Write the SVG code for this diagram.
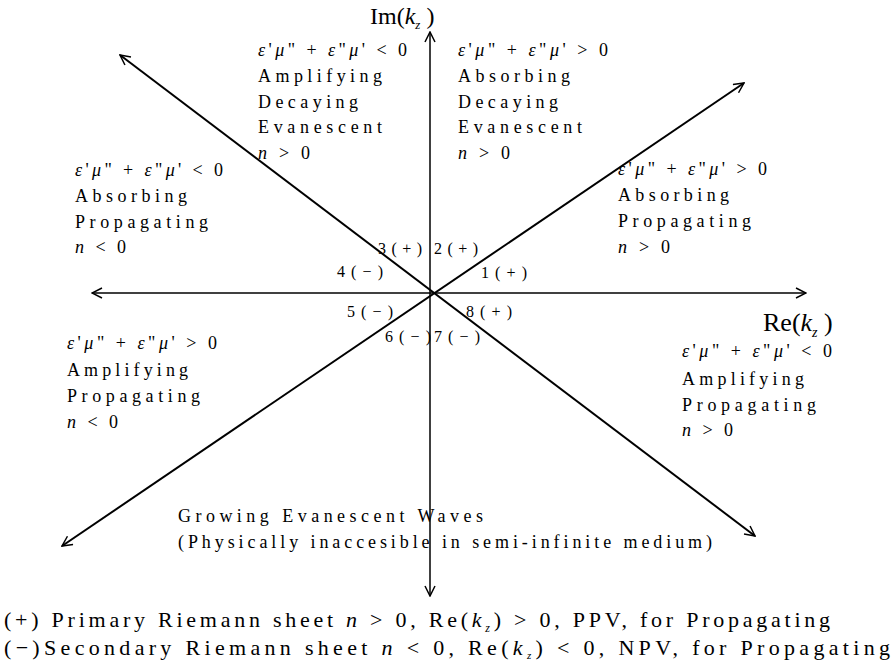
<svg xmlns="http://www.w3.org/2000/svg" width="896" height="662" viewBox="0 0 896 662">
<defs>
<style>
text{font-family:"Liberation Serif","Times New Roman",serif;fill:#000}
.b{font-size:18px}
.q{font-size:16px}
.i{font-style:italic}
.ax{fill:none;stroke:#000;marker-start:url(#ah);marker-end:url(#ah)}
</style>
<marker id="ah" viewBox="0 0 12 12" refX="11" refY="6" markerWidth="12" markerHeight="12" markerUnits="userSpaceOnUse" orient="auto-start-reverse">
<path d="M1,1 L11,6 L1,11" fill="none" stroke="#000" stroke-width="1.5"/>
</marker>
</defs>
<rect width="896" height="662" fill="#fff"/>
<g id="connectors">
<line class="ax" x1="430" y1="596" x2="430" y2="32" stroke="#333" stroke-width="1.5"/>
<line class="ax" x1="92" y1="293" x2="806" y2="293" stroke-width="1.3"/>
<line class="ax" x1="120" y1="55" x2="755" y2="536" stroke-width="2"/>
<line class="ax" x1="62" y1="546" x2="744" y2="83" stroke-width="2"/>
</g>
<g id="axis-im"><text x="370" y="24" font-size="24">Im(<tspan class="i">k</tspan><tspan class="i" font-size="13" dy="5">z</tspan><tspan dy="-5"> )</tspan></text></g>
<g id="axis-re"><text x="763" y="331" font-size="26">Re(<tspan class="i">k</tspan><tspan class="i" font-size="14" dy="6">z</tspan><tspan dy="-6"> )</tspan></text></g>
<g id="q3-top">
<text class="b" x="258" y="56" textLength="149" lengthAdjust="spacing"><tspan class="i">ε</tspan>'<tspan class="i">μ</tspan>" + <tspan class="i">ε</tspan>"<tspan class="i">μ</tspan>' &lt; 0</text>
<text class="b" x="258" y="82" textLength="124" lengthAdjust="spacing">Amplifying</text>
<text class="b" x="258" y="108" textLength="100" lengthAdjust="spacing">Decaying</text>
<text class="b" x="258" y="133" textLength="124" lengthAdjust="spacing">Evanescent</text>
<text class="b" x="258" y="159" textLength="52" lengthAdjust="spacing"><tspan class="i">n</tspan> &gt; 0</text>
</g>
<g id="q2-top">
<text class="b" x="458" y="56" textLength="150" lengthAdjust="spacing"><tspan class="i">ε</tspan>'<tspan class="i">μ</tspan>" + <tspan class="i">ε</tspan>"<tspan class="i">μ</tspan>' &gt; 0</text>
<text class="b" x="458" y="82" textLength="112" lengthAdjust="spacing">Absorbing</text>
<text class="b" x="458" y="108" textLength="100" lengthAdjust="spacing">Decaying</text>
<text class="b" x="458" y="133" textLength="124" lengthAdjust="spacing">Evanescent</text>
<text class="b" x="458" y="159" textLength="52" lengthAdjust="spacing"><tspan class="i">n</tspan> &gt; 0</text>
</g>
<g id="q4-left">
<text class="b" x="75" y="176" textLength="148" lengthAdjust="spacing"><tspan class="i">ε</tspan>'<tspan class="i">μ</tspan>" + <tspan class="i">ε</tspan>"<tspan class="i">μ</tspan>' &lt; 0</text>
<text class="b" x="75" y="202" textLength="112" lengthAdjust="spacing">Absorbing</text>
<text class="b" x="75" y="228" textLength="133" lengthAdjust="spacing">Propagating</text>
<text class="b" x="75" y="253" textLength="51" lengthAdjust="spacing"><tspan class="i">n</tspan> &lt; 0</text>
</g>
<g id="q1-right">
<text class="b" x="618" y="175" textLength="149" lengthAdjust="spacing"><tspan class="i">ε</tspan>'<tspan class="i">μ</tspan>" + <tspan class="i">ε</tspan>"<tspan class="i">μ</tspan>' &gt; 0</text>
<text class="b" x="618" y="201" textLength="111" lengthAdjust="spacing">Absorbing</text>
<text class="b" x="618" y="227" textLength="133" lengthAdjust="spacing">Propagating</text>
<text class="b" x="618" y="253" textLength="52" lengthAdjust="spacing"><tspan class="i">n</tspan> &gt; 0</text>
</g>
<g id="q5-left">
<text class="b" x="67" y="349" textLength="150" lengthAdjust="spacing"><tspan class="i">ε</tspan>'<tspan class="i">μ</tspan>" + <tspan class="i">ε</tspan>"<tspan class="i">μ</tspan>' &gt; 0</text>
<text class="b" x="67" y="376" textLength="121" lengthAdjust="spacing">Amplifying</text>
<text class="b" x="67" y="402" textLength="133" lengthAdjust="spacing">Propagating</text>
<text class="b" x="67" y="428" textLength="51" lengthAdjust="spacing"><tspan class="i">n</tspan> &lt; 0</text>
</g>
<g id="q8-right">
<text class="b" x="682" y="357" textLength="150" lengthAdjust="spacing"><tspan class="i">ε</tspan>'<tspan class="i">μ</tspan>" + <tspan class="i">ε</tspan>"<tspan class="i">μ</tspan>' &lt; 0</text>
<text class="b" x="682" y="385" textLength="122" lengthAdjust="spacing">Amplifying</text>
<text class="b" x="682" y="411" textLength="134" lengthAdjust="spacing">Propagating</text>
<text class="b" x="682" y="436" textLength="51" lengthAdjust="spacing"><tspan class="i">n</tspan> &gt; 0</text>
</g>
<g id="quadrant-labels">
<text class="q" x="378" y="254" textLength="44" lengthAdjust="spacing">3 ( + )</text>
<text class="q" x="434" y="254" textLength="44" lengthAdjust="spacing">2 ( + )</text>
<text class="q" x="337" y="277" textLength="46" lengthAdjust="spacing">4 ( − )</text>
<text class="q" x="481" y="278" textLength="46" lengthAdjust="spacing">1 ( + )</text>
<text class="q" x="347" y="317" textLength="46" lengthAdjust="spacing">5 ( − )</text>
<text class="q" x="466" y="317" textLength="46" lengthAdjust="spacing">8 ( + )</text>
<text class="q" x="385" y="342" textLength="46" lengthAdjust="spacing">6 ( − )</text>
<text class="q" x="434" y="342" textLength="46" lengthAdjust="spacing">7 ( − )</text>
</g>
<g id="growing">
<text class="b" x="178" y="522" textLength="305" lengthAdjust="spacing">Growing Evanescent Waves</text>
<text class="b" x="178" y="548" textLength="534" lengthAdjust="spacing">(Physically inaccesible in semi-infinite medium)</text>
</g>
<g id="legend">
<text x="4" y="627" font-size="22" textLength="826" lengthAdjust="spacing">(+) Primary Riemann sheet <tspan class="i">n</tspan> &gt; 0, Re(<tspan class="i">k</tspan><tspan class="i" font-size="12" dy="5">z</tspan><tspan dy="-5">) &gt; 0, PPV, for Propagating</tspan></text>
<text x="4" y="655" font-size="22" textLength="886" lengthAdjust="spacing">(−)Secondary Riemann sheet <tspan class="i">n</tspan> &lt; 0, Re(<tspan class="i">k</tspan><tspan class="i" font-size="11" dy="4">z</tspan><tspan dy="-4">) &lt; 0, NPV, for Propagating</tspan></text>
</g>
</svg>
